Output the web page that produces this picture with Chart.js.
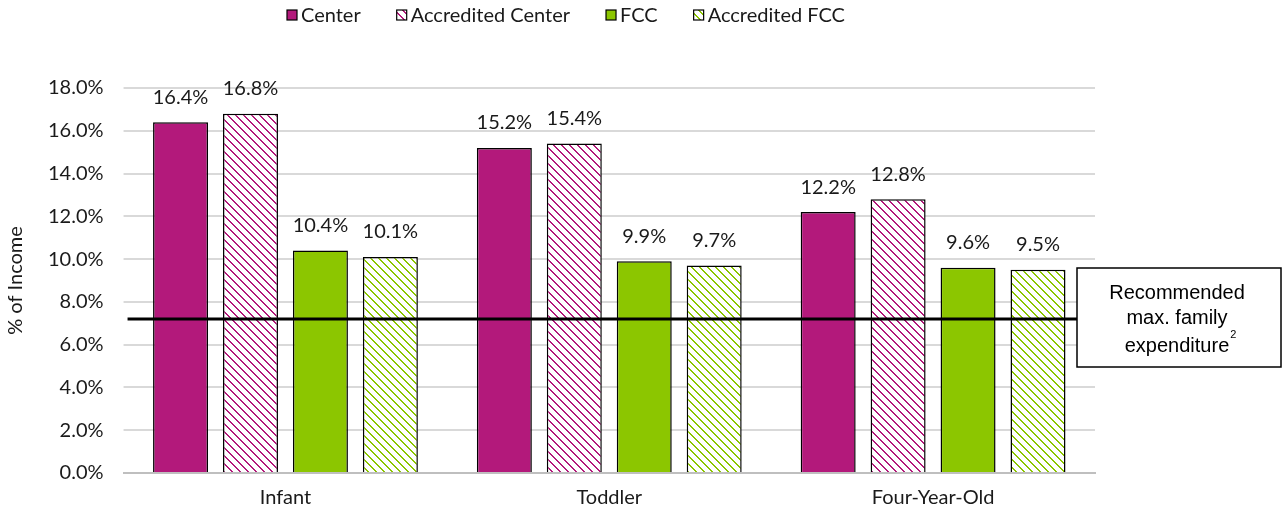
<!DOCTYPE html>
<html>
<head>
<meta charset="utf-8">
<script src="https://cdn.jsdelivr.net/npm/chart.js@4.4.0/dist/chart.umd.min.js"></script>
<style>
html,body{margin:0;padding:0;background:#fff;}
#wrap{width:1288px;height:516px;position:relative;}
</style>
</head>
<body>
<div id="wrap"><canvas id="c" width="1288" height="516"></canvas></div>
<script>
const categories = ["Infant", "Toddler", "Four-Year-Old"];
const seriesNames = ["Center", "Accredited Center", "FCC", "Accredited FCC"];
const center = [16.4, 15.2, 12.2];
const accreditedCenter = [16.8, 15.4, 12.8];
const fcc = [10.4, 9.9, 9.6];
const accreditedFcc = [10.1, 9.7, 9.5];
const recommendedMax = 7.2;
const yTicks = [0, 2, 4, 6, 8, 10, 12, 14, 16, 18];
const boxLines = ["Recommended", "max. family", "expenditure"];

const MAGENTA = '#B3197B';
const GREEN = '#8CC600';
const TEXT = '#1a1a1a';

function hatch(color) {
  const c = document.createElement('canvas');
  c.width = 8; c.height = 8;
  const g = c.getContext('2d');
  g.fillStyle = '#fff';
  g.fillRect(0, 0, 8, 8);
  g.fillStyle = color;
  for (let y = 0; y < 8; y++) {
    for (let x = 0; x < 8; x++) {
      const d = ((x - y) % 8 + 8) % 8;
      if (d === 0 || d === 1) g.fillRect(x, y, 1, 1);
    }
  }
  return document.getElementById('c').getContext('2d').createPattern(c, 'repeat');
}

const FONT = 'Lato, "Open Sans", sans-serif';
const FS = 20;

const legendPlugin = {
  id: 'customLegend',
  afterDraw(chart) {
    const ctx = chart.ctx;
    ctx.save();
    ctx.font = FS + 'px ' + FONT;
    ctx.textBaseline = 'middle';
    ctx.textAlign = 'left';
    let x = 287;
    const y = 15;
    chart.data.datasets.forEach(ds => {
      ctx.fillStyle = ds.backgroundColor;
      ctx.fillRect(x, y - 5, 10, 10);
      ctx.strokeStyle = '#000';
      ctx.lineWidth = 1.2;
      ctx.strokeRect(x, y - 5, 10, 10);
      ctx.fillStyle = TEXT;
      ctx.fillText(ds.label, x + 14, y + 1);
      x += 14 + ctx.measureText(ds.label).width + 36;
    });
    ctx.restore();
  }
};

const labelsPlugin = {
  id: 'valueLabels',
  afterDatasetsDraw(chart) {
    const ctx = chart.ctx;
    ctx.save();
    ctx.font = FS + 'px ' + FONT;
    ctx.fillStyle = TEXT;
    ctx.textAlign = 'center';
    ctx.textBaseline = 'middle';
    chart.data.datasets.forEach((ds, i) => {
      const meta = chart.getDatasetMeta(i);
      meta.data.forEach((el, j) => {
        ctx.fillText(ds.data[j].toFixed(1) + '%', el.x, el.y - 25);
      });
    });
    ctx.restore();
  }
};

const refPlugin = {
  id: 'refLine',
  afterDatasetsDraw(chart) {
    const ctx = chart.ctx;
    const ca = chart.chartArea;
    const y = chart.scales.y.getPixelForValue(recommendedMax);
    const bx = 1077, by = 268, bw = 204, bh = 99;
    ctx.save();
    ctx.strokeStyle = '#000';
    ctx.lineWidth = 3;
    ctx.beginPath();
    ctx.moveTo(ca.left + 4, y);
    ctx.lineTo(bx, y);
    ctx.stroke();
    ctx.fillStyle = '#fff';
    ctx.fillRect(bx, by, bw, bh);
    ctx.lineWidth = 1.5;
    ctx.strokeRect(bx, by, bw, bh);
    ctx.fillStyle = '#000';
    ctx.font = '20px "Liberation Sans", Arial, sans-serif';
    ctx.textAlign = 'center';
    ctx.textBaseline = 'middle';
    const cx = bx + bw / 2 - 2;
    ctx.fillText(boxLines[0], cx, by + 25);
    ctx.fillText(boxLines[1], cx, by + 50);
    ctx.fillText(boxLines[2], cx, by + 78);
    const w = ctx.measureText(boxLines[2]).width;
    ctx.font = '11px "Liberation Sans", Arial, sans-serif';
    ctx.textAlign = 'left';
    ctx.fillText('2', cx + w / 2 + 1, by + 67);
    ctx.restore();
  }
};

const common = { borderColor: '#000', borderWidth: 1.5, barPercentage: 0.786, categoryPercentage: 0.864 };

new Chart(document.getElementById('c'), {
  type: 'bar',
  data: {
    labels: categories,
    datasets: [
      Object.assign({ label: seriesNames[0], data: center, backgroundColor: MAGENTA }, common),
      Object.assign({ label: seriesNames[1], data: accreditedCenter, backgroundColor: hatch(MAGENTA) }, common),
      Object.assign({ label: seriesNames[2], data: fcc, backgroundColor: GREEN }, common),
      Object.assign({ label: seriesNames[3], data: accreditedFcc, backgroundColor: hatch(GREEN) }, common)
    ]
  },
  options: {
    responsive: false,
    animation: false,
    layout: { padding: { top: 88, right: 193, bottom: -7, left: 4 } },
    plugins: {
      legend: { display: false },
      tooltip: { enabled: false }
    },
    scales: {
      x: {
        grid: { display: false, drawTicks: false },
        border: { display: true, color: '#BFBFBF', width: 2 },
        ticks: { font: { family: FONT, size: FS }, color: TEXT, padding: 13 }
      },
      y: {
        min: 0, max: 18,
        afterBuildTicks(axis) { axis.ticks = yTicks.map(v => ({ value: v })); },
        grid: { color: '#D9D9D9', lineWidth: 2, drawTicks: true, tickLength: 0 },
        border: { display: false },
        ticks: {
          font: { family: FONT, size: FS },
          color: TEXT,
          padding: 20,
          callback: v => v.toFixed(1) + '%'
        },
        title: { display: true, text: '% of Income', font: { family: FONT, size: FS }, color: TEXT, padding: { top: 0, bottom: 0 } }
      }
    }
  },
  plugins: [labelsPlugin, refPlugin, legendPlugin]
});
</script>
</body>
</html>
